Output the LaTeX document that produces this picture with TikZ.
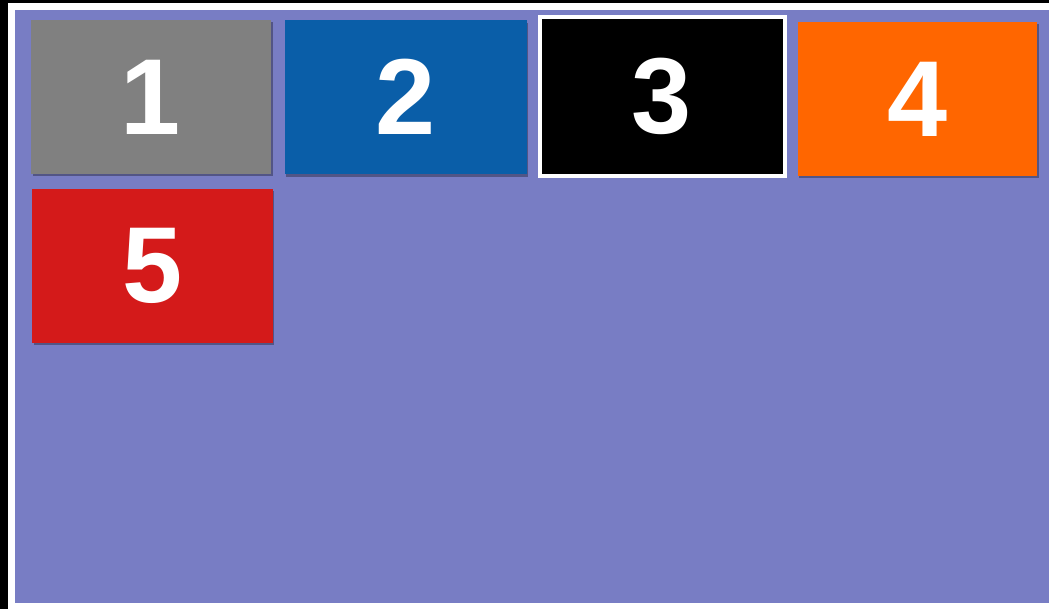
\documentclass[tikz,border=0pt]{standalone}
\usepackage{fontspec}
\setmainfont{Liberation Sans}
\usetikzlibrary{shadows}
\definecolor{bgpurple}{RGB}{120,125,196}
\definecolor{cgray}{RGB}{128,128,128}
\definecolor{cblue}{RGB}{10,94,168}
\definecolor{corange}{RGB}{255,102,0}
\definecolor{cred}{RGB}{212,26,26}
\begin{document}
\begin{tikzpicture}[x=1pt,y=-1pt,
  tile/.style={rectangle, inner sep=0pt, outer sep=0pt, text=white,
    font=\fontsize{108}{108}\selectfont\bfseries,
    minimum height=154pt,
    drop shadow={opacity=0.45, fill=black!70!bgpurple, shadow xshift=1.5pt, shadow yshift=-2.5pt}}]
\useasboundingbox (0,0) rectangle (1049,609);
\fill[black] (0,0) rectangle (1049,609);
\fill[white] (8,3) rectangle (1049,609);
\fill[bgpurple] (15,10) rectangle (1049,603);
\node[tile, fill=cgray, minimum width=240pt] (n1) at (151,97) {1};
\node[tile, fill=cblue, minimum width=241.7pt] (n2) at (405.8,97.2) {2};
\node[tile, fill=black, draw=white, line width=4pt, minimum width=245pt, minimum height=158.4pt] (n3) at (662,96.5) {3};
\node[tile, fill=corange, minimum width=239.6pt] (n4) at (917.5,99) {4};
\node[tile, fill=cred, minimum width=240.4pt] (n5) at (152.5,266) {5};
\end{tikzpicture}
\end{document}
